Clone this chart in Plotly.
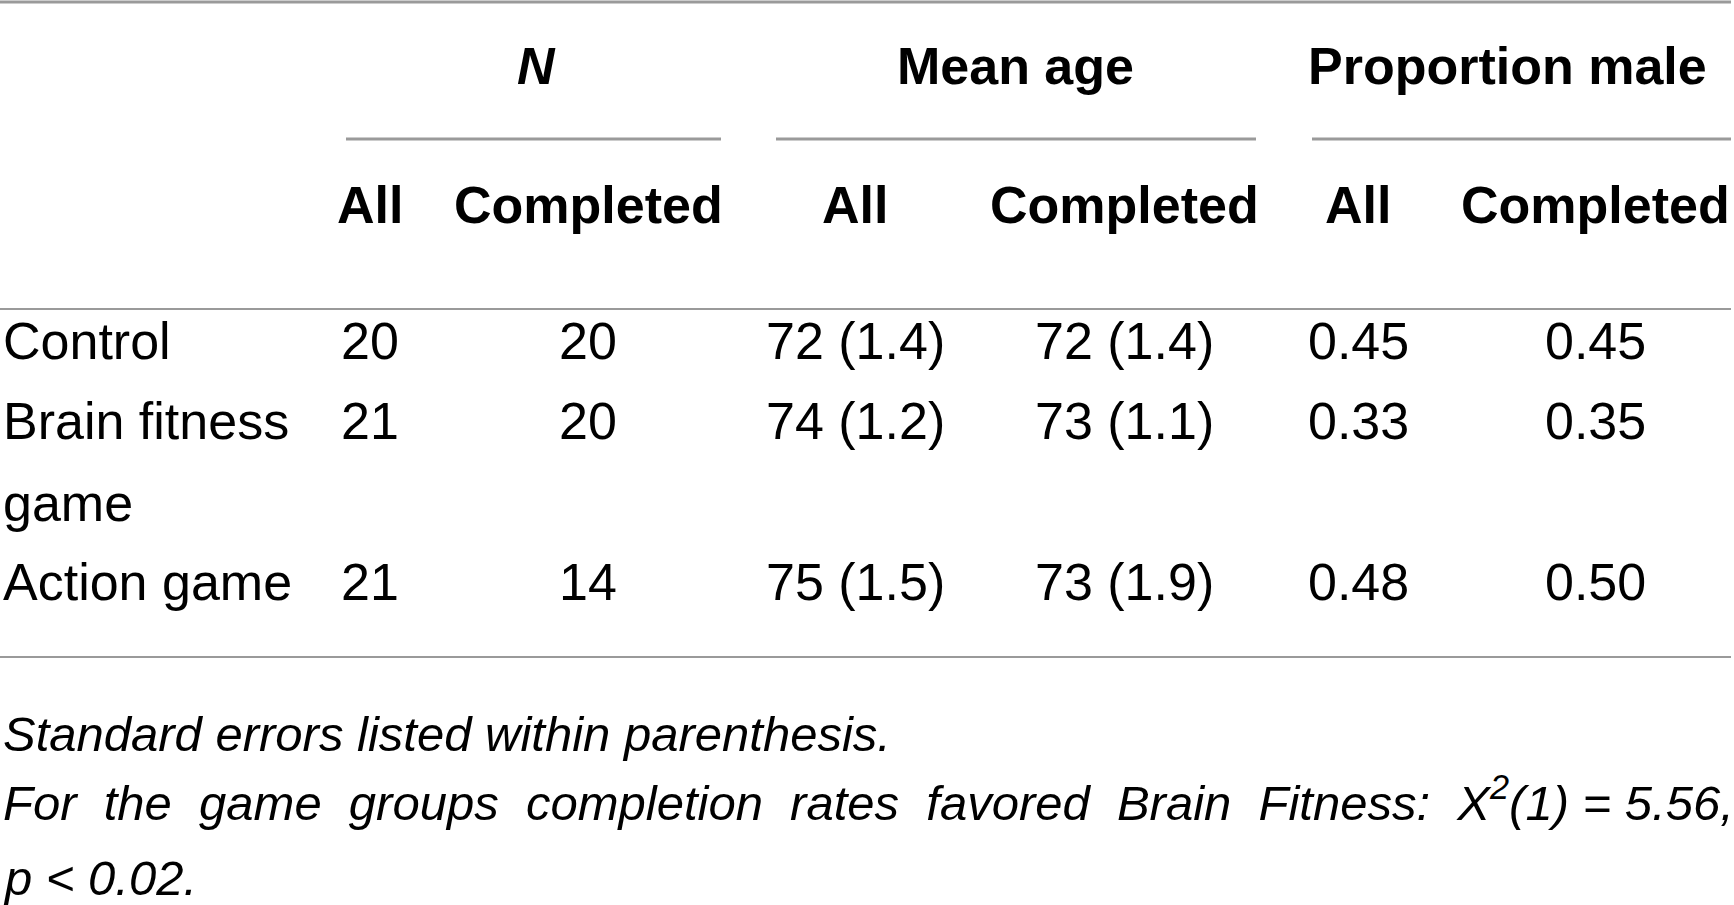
import plotly.graph_objects as go

# table content
groups = ["N", "Mean age", "Proportion male"]
subcols = ["All", "Completed", "All", "Completed", "All", "Completed"]
row_labels = ["Control", "Brain fitness<br>game", "Action game"]
n_all = ["20", "21", "21"]
n_completed = ["20", "20", "14"]
age_all = ["72 (1.4)", "74 (1.2)", "75 (1.5)"]
age_completed = ["72 (1.4)", "73 (1.1)", "73 (1.9)"]
male_all = ["0.45", "0.33", "0.48"]
male_completed = ["0.45", "0.35", "0.50"]
note1 = "Standard errors listed within parenthesis."
note2_words = ["For", "the", "game", "groups", "completion", "rates", "favored",
               "Brain", "Fitness:", "X<sup>2</sup>(1) = 5.56,"]
note3 = "p &lt; 0.02."

columns = [n_all, n_completed, age_all, age_completed, male_all, male_completed]

# layout (pixels)
W, H = 1734, 905
FONT = "Liberation Sans, Arial, sans-serif"
FS = 52
NOTE_FS = 49
col_x = [370, 588, 855, 1124, 1358, 1595]
group_x = [536, 1015, 1507]
group_span = [(346, 721), (776, 1256), (1312, 1731)]
row_y = [341, 421, 582]
line_color = "#9a9a9a"

fig = go.Figure()
fig.add_trace(go.Scatter(x=[0, W], y=[0, H], mode="markers",
                         marker=dict(opacity=0), hoverinfo="skip", showlegend=False))

ann = []


def txt(x, y, s, anchor="center", bold=False, italic=False, size=FS):
    if italic:
        s = "<i>" + s + "</i>"
    if bold:
        s = "<b>" + s + "</b>"
    ann.append(dict(x=x, y=y, xref="x", yref="y", text=s, showarrow=False,
                    xanchor=anchor, yanchor="middle",
                    font=dict(family=FONT, size=size, color="black"), align="left"))


# group headers
for i, g in enumerate(groups):
    txt(group_x[i], 66, g, bold=True, italic=(g == "N"))
for i, s in enumerate(subcols):
    txt(col_x[i], 205, s, bold=True)

# body
for r, lab in enumerate(row_labels):
    if "<br>" in lab:
        first, second = lab.split("<br>")
        txt(1, row_y[r], first, anchor="left")
        txt(1, 503, second, anchor="left")
    else:
        txt(1, row_y[r], lab, anchor="left")
    for c, col in enumerate(columns):
        txt(col_x[c], row_y[r], col[r])

# notes (second line justified with wider gaps)
txt(1, 734, note1, anchor="left", italic=True, size=NOTE_FS)
txt(1, 799, "\u00a0\u00a0".join(note2_words), anchor="left", italic=True, size=NOTE_FS)
txt(1, 878, note3, anchor="left", italic=True, size=NOTE_FS)

shapes = [
    dict(type="line", xref="x", yref="y", x0=0, x1=W - 3, y0=2, y1=2,
         line=dict(color=line_color, width=3)),
    dict(type="line", xref="x", yref="y", x0=0, x1=W - 3, y0=309, y1=309,
         line=dict(color=line_color, width=2)),
    dict(type="line", xref="x", yref="y", x0=0, x1=W - 3, y0=657, y1=657,
         line=dict(color=line_color, width=2)),
]
for a, b in group_span:
    shapes.append(dict(type="line", xref="x", yref="y", x0=a, x1=b, y0=139, y1=139,
                       line=dict(color=line_color, width=3)))

fig.update_layout(
    width=W, height=H,
    margin=dict(l=0, r=0, t=0, b=0),
    paper_bgcolor="white", plot_bgcolor="white",
    xaxis=dict(range=[0, W], visible=False, fixedrange=True),
    yaxis=dict(range=[H, 0], visible=False, fixedrange=True),
    annotations=ann, shapes=shapes,
)

fig.write_html("out.html", config={"displayModeBar": False},
               post_script="document.body.style.margin='0';")
